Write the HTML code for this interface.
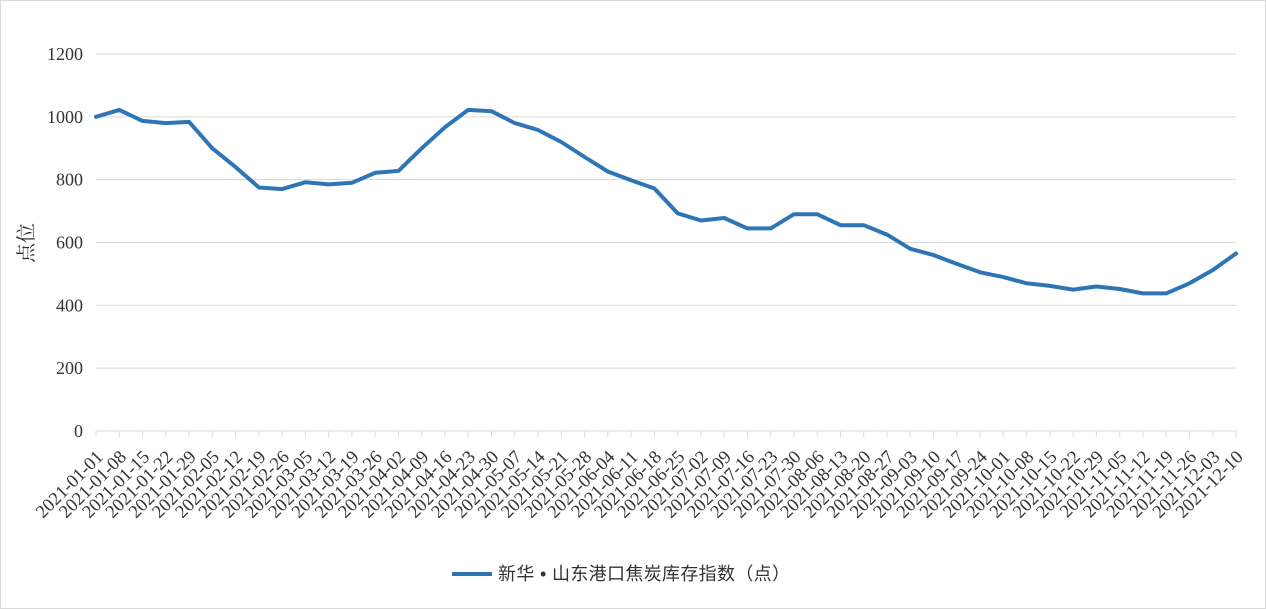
<!DOCTYPE html>
<html><head><meta charset="utf-8"><style>
html,body{margin:0;padding:0;background:#fff}
svg{display:block}
text{font-family:"Liberation Serif","Noto Serif CJK SC",serif;fill:#333}
</style></head><body>
<svg id="c" width="1266" height="609" viewBox="0 0 1266 609" xmlns="http://www.w3.org/2000/svg">
<rect x="0.5" y="0.5" width="1265" height="608" fill="#fff" stroke="#d9d9d9"/>
<g id="g"></g>
<text x="0" y="0" transform="translate(33,243) rotate(-90)" text-anchor="middle" font-size="20">点位</text>
<line x1="452" y1="574" x2="492" y2="574" stroke="#2e75b6" stroke-width="4"/>
<text x="498" y="580" font-size="18" textLength="292" style="font-family:'Liberation Sans','Noto Sans CJK SC',sans-serif">新华 • 山东港口焦炭库存指数（点）</text>
</svg>
<script>
var d=[1000,1022,987,980,984,900,840,775,770,792,785,790,822,828,900,967,1022,1018,980,958,920,872,826,798,772,693,670,678,645,645,690,690,655,655,625,580,560,532,505,490,470,462,450,460,452,438,438,470,512,565];
var x0=96,x1=1236,y0=431,s=377/1200,n=d.length,dx=(x1-x0)/(n-1),h='';
for(var v=200;v<=1200;v+=200){var y=y0-v*s;h+='<line x1="'+x0+'" x2="'+x1+'" y1="'+y+'" y2="'+y+'" stroke="#d9d9d9"/>';}
for(var v=0;v<=1200;v+=200){var y=y0-v*s;h+='<text x="83" y="'+(y+6)+'" text-anchor="end" font-size="18">'+v+'</text>';}
h+='<line x1="'+x0+'" x2="'+x1+'" y1="'+y0+'" y2="'+y0+'" stroke="#d9d9d9"/>';
var t=new Date(Date.UTC(2021,0,1));
for(var i=0;i<n;i++){var x=x0+i*dx;h+='<line x1="'+x+'" x2="'+x+'" y1="'+y0+'" y2="'+(y0+6)+'" stroke="#d9d9d9"/>';
var dt=new Date(t.getTime()+i*7*864e5),lab=dt.toISOString().slice(0,10);
h+='<text transform="translate('+(x+8)+',458) rotate(-45)" text-anchor="end" font-size="18.5">'+lab+'</text>';}
var p=d.map(function(v,i){return (x0+i*dx).toFixed(1)+','+(y0-v*s).toFixed(1)}).join(' ');
h+='<polyline points="'+p+'" fill="none" stroke="#2e75b6" stroke-width="4" stroke-linejoin="round" stroke-linecap="round"/>';
document.getElementById('g').innerHTML=h;
</script>
</body></html>
